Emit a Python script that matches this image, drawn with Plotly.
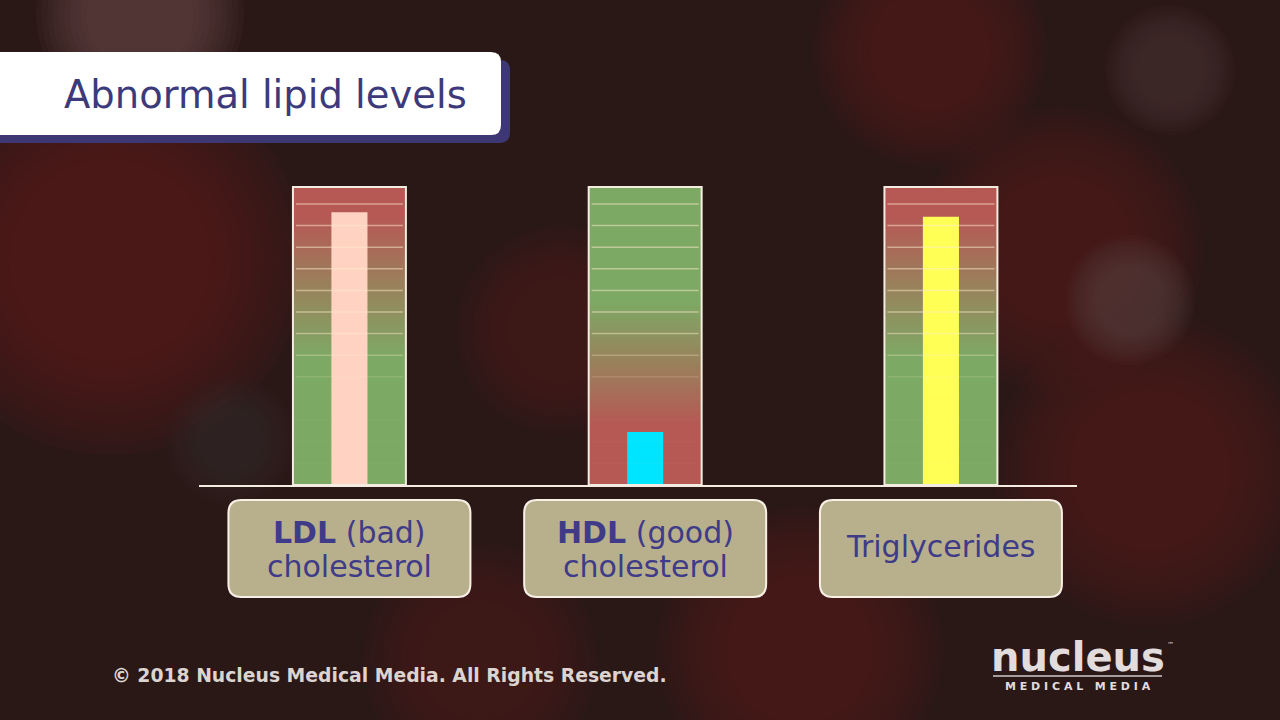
import numpy as np
import plotly.graph_objects as go

# ---------------- data ----------------
categories = ["LDL", "HDL", "Triglycerides"]
label_line1 = ["<b>LDL</b> (bad)", "<b>HDL</b> (good)", "Triglycerides"]
label_line2 = ["cholesterol", "cholesterol", ""]
levels = [91.5, 17.8, 90.0]          # bar level on a 0-100 gauge
bar_colors = ["#ffd2c2", "#00e5ff", "#ffff55"]
gauge_good_low = [True, False, True]  # True: green at bottom, red at top
title_text = "Abnormal lipid levels"
copyright_text = "© 2018 Nucleus Medical Media. All Rights Reserved."

# ---------------- geometry helpers ----------------
W, H = 1280, 720
X0, X1 = -1.1815, 3.1465
Y0, Y1 = -78.86, 162.75
GAUGE_W = 0.382
BAR_W = 0.122


def xpix(v):
    return (v - X0) / (X1 - X0) * W


def P(px, py):
    return f"{px / W:.5f},{1 - py / H:.5f}"


def rrect(l, t, r, b, rad):
    return (f"M {P(l + rad, t)} L {P(r - rad, t)} Q {P(r, t)} {P(r, t + rad)} "
            f"L {P(r, b - rad)} Q {P(r, b)} {P(r - rad, b)} L {P(l + rad, b)} "
            f"Q {P(l, b)} {P(l, b - rad)} L {P(l, t + rad)} Q {P(l, t)} {P(l + rad, t)} Z")


RED = "rgb(182,88,84)"
GREEN = "rgb(124,170,100)"
MID = "rgb(152,130,92)"

fig = go.Figure()
shapes = []

# background soft blobs (decorative, blurred look via concentric circles)
blobs = [
    (110, 260, 150, "rgba(95,32,32,{a})"),
    (140, 15, 80, "rgba(110,80,80,{a})"),
    (1060, 250, 110, "rgba(85,30,30,{a})"),
    (1150, 470, 120, "rgba(85,32,32,{a})"),
    (800, 650, 110, "rgba(85,32,32,{a})"),
    (480, 660, 90, "rgba(80,32,32,{a})"),
    (930, 50, 90, "rgba(85,32,32,{a})"),
    (1170, 70, 50, "rgba(80,60,60,{a})"),
    (560, 330, 80, "rgba(75,32,32,{a})"),
    (1130, 300, 50, "rgba(85,65,65,{a})"),
    (230, 440, 50, "rgba(60,45,40,{a})"),
]
for cx, cy, r, col in blobs:
    for k in range(10):
        rr = r * (1.3 - 0.07 * k)
        shapes.append(dict(type="circle", xref="paper", yref="paper",
                           x0=(cx - rr) / W, x1=(cx + rr) / W,
                           y0=1 - (cy + rr) / H, y1=1 - (cy - rr) / H,
                           fillcolor=col.format(a=0.09), line=dict(width=0),
                           layer="below"))

# gauges
ys = np.linspace(0, 100, 101)
for i, (lvl, good_low) in enumerate(zip(levels, gauge_good_low)):
    if good_low:
        cs = [[0, GREEN], [0.42, GREEN], [0.66, MID], [0.9, RED], [1, RED]]
    else:
        cs = [[0, RED], [0.2, RED], [0.42, MID], [0.62, GREEN], [1, GREEN]]
    zc = ((ys[:-1] + ys[1:]) / 2).reshape(-1, 1)
    fig.add_trace(go.Heatmap(x=[i - GAUGE_W / 2, i + GAUGE_W / 2], y=ys, z=zc,
                             zmin=0, zmax=100, colorscale=cs, showscale=False,
                             hoverinfo="skip"))
    # gauge tick lines
    for v in np.arange(94.3, 5, -7.25):
        op = float(np.clip((v - 30) / 45, 0.03, 0.5))
        fig.add_trace(go.Scatter(x=[i - GAUGE_W / 2 + 0.01, i + GAUGE_W / 2 - 0.01],
                                 y=[v, v], mode="lines",
                                 line=dict(color=f"rgba(255,235,205,{op:.2f})", width=1.5),
                                 hoverinfo="skip", showlegend=False))

# value bars
fig.add_trace(go.Bar(x=list(range(len(categories))), y=levels, width=BAR_W,
                     marker=dict(color=bar_colors, line=dict(width=0)),
                     hoverinfo="skip", showlegend=False))

# gauge outlines
for i in range(len(categories)):
    shapes.append(dict(type="rect", xref="x", yref="y", x0=i - GAUGE_W / 2,
                       x1=i + GAUGE_W / 2, y0=0, y1=100,
                       line=dict(color="#f4ece0", width=2), layer="above"))

# baseline
shapes.append(dict(type="line", xref="paper", yref="y", x0=199 / W, x1=1077 / W,
                   y0=-0.3, y1=-0.3, line=dict(color="#f4ece0", width=2)))

annotations = []
LABEL_FONT = dict(family="DejaVu Sans", size=30, color="#3f3b88")
# category label boxes
for i in range(len(categories)):
    cx = xpix(i)
    shapes.append(dict(type="path", xref="paper", yref="paper",
                       path=rrect(cx - 121, 500, cx + 121, 597, 13),
                       fillcolor="#b8b08c", line=dict(color="#f8f0e6", width=2)))
    if label_line2[i]:
        annotations.append(dict(x=i, xref="x", y=1 - 532 / H, yref="paper",
                                yanchor="middle", text=label_line1[i],
                                showarrow=False, font=LABEL_FONT))
        annotations.append(dict(x=i, xref="x", y=1 - 566 / H, yref="paper",
                                yanchor="middle", text=label_line2[i],
                                showarrow=False, font=LABEL_FONT))
    else:
        annotations.append(dict(x=i, xref="x", y=1 - 546 / H, yref="paper",
                                yanchor="middle", text=label_line1[i],
                                showarrow=False, font=LABEL_FONT))

# title box with shadow
shapes.append(dict(type="path", xref="paper", yref="paper",
                   path=rrect(-30, 60, 510, 143, 10), fillcolor="#3d3874",
                   line=dict(width=0)))
shapes.append(dict(type="path", xref="paper", yref="paper",
                   path=rrect(-30, 52, 501, 135, 10), fillcolor="#ffffff",
                   line=dict(width=0)))
annotations.append(dict(x=62 / W, y=1 - 95 / H, xref="paper", yref="paper",
                        xanchor="left", yanchor="middle", text=title_text,
                        showarrow=False,
                        font=dict(family="DejaVu Sans", size=38.5, color="#3d3a7c")))

# copyright
annotations.append(dict(x=110 / W, y=1 - 675 / H, xref="paper", yref="paper",
                        xanchor="left", yanchor="middle", text="<b>" + copyright_text + "</b>",
                        showarrow=False,
                        font=dict(family="DejaVu Sans", size=18.8, color="#dcd4d0")))

# logo
annotations.append(dict(x=1078 / W, y=1 - 657 / H, xref="paper", yref="paper",
                        xanchor="center", yanchor="middle", text="<b>nucleus</b>",
                        showarrow=False,
                        font=dict(family="DejaVu Sans", size=40, color="#e2dcdc")))
annotations.append(dict(x=1165 / W, y=1 - 645 / H, xref="paper", yref="paper",
                        xanchor="left", yanchor="middle", text="™",
                        showarrow=False,
                        font=dict(family="DejaVu Sans", size=7, color="#e2dcdc")))
annotations.append(dict(x=1078 / W, y=1 - 686 / H, xref="paper", yref="paper",
                        xanchor="center", yanchor="middle",
                        text="<b>M E D I C A L   M E D I A</b>",
                        showarrow=False,
                        font=dict(family="DejaVu Sans", size=11, color="#e2dcdc")))
shapes.append(dict(type="line", xref="paper", yref="paper", x0=993 / W, x1=1162 / W,
                   y0=1 - 676 / H, y1=1 - 676 / H,
                   line=dict(color="#cfc8c8", width=1.5)))

fig.update_layout(
    width=W, height=H,
    margin=dict(l=0, r=0, t=0, b=0),
    paper_bgcolor="#2a1816",
    plot_bgcolor="rgba(0,0,0,0)",
    xaxis=dict(range=[X0, X1], visible=False, fixedrange=True),
    yaxis=dict(range=[Y0, Y1], visible=False, fixedrange=True),
    shapes=shapes,
    annotations=annotations,
    showlegend=False,
    barmode="overlay",
)

fig.write_html("out.html")
